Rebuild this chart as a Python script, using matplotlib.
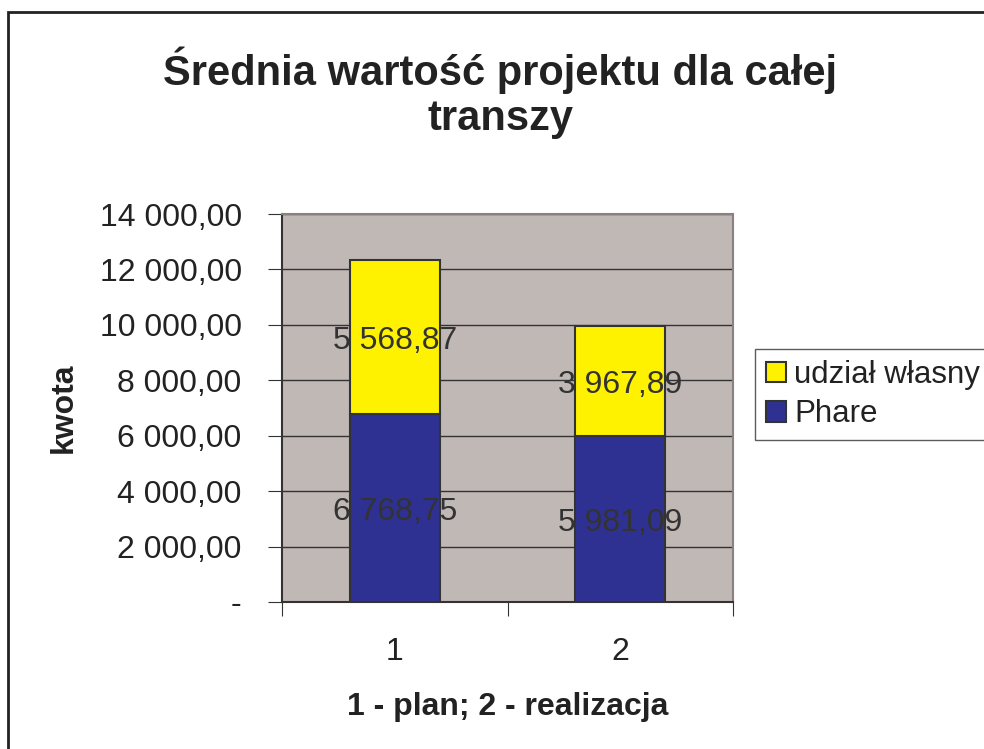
import matplotlib.pyplot as plt
from matplotlib.patches import Patch, Rectangle

plt.rcParams['font.family'] = ['Liberation Sans', 'DejaVu Sans']

# data
categories = ['1', '2']
phare = [6768.75, 5981.09]
udzial = [5568.87, 3967.89]
phare_labels = ['6 768,75', '5 981,09']
udzial_labels = ['5 568,87', '3 967,89']
yticks = [0, 2000, 4000, 6000, 8000, 10000, 12000, 14000]
ytick_labels = ['-', '2 000,00', '4 000,00', '6 000,00', '8 000,00',
                '10 000,00', '12 000,00', '14 000,00']

yellow = '#FFF200'
blue = '#2E3192'
txt = '#222222'

fig = plt.figure(figsize=(9.84, 7.49), dpi=100)
ax = fig.add_axes([282 / 984, 1 - 602 / 749, 451 / 984, 388 / 749])
ax.set_facecolor('#C0B8B5')

x = [1, 2]
ax.bar(x, phare, width=0.4, color=blue, edgecolor='#333333', linewidth=1.5, zorder=3)
ax.bar(x, udzial, width=0.4, bottom=phare, color=yellow, edgecolor='#333333',
       linewidth=1.5, zorder=3)

# data labels in segment centres
for xi, p, u, pl, ul in zip(x, phare, udzial, phare_labels, udzial_labels):
    ax.text(xi, p / 2, pl, ha='center', va='center_baseline', fontsize=23,
            color='#333333', zorder=4)
    ax.text(xi, p + u / 2, ul, ha='center', va='center_baseline', fontsize=23,
            color='#333333', zorder=4)

ax.set_ylim(0, 14000)
ax.set_xlim(0.5, 2.5)
ax.set_yticks(yticks)
ax.set_yticklabels(ytick_labels, fontsize=23, color=txt)
ax.yaxis.grid(True, color='#333333', linewidth=1, zorder=1)
ax.set_axisbelow(True)

# category ticks sit between the categories, labels at the centre
ax.set_xticks([0.5, 1.5, 2.5])
ax.set_xticklabels([])
ax.set_xticks(x, minor=True)
ax.set_xticklabels(categories, minor=True, fontsize=23, color=txt)
ax.tick_params(axis='x', which='minor', length=0, pad=25)
ax.tick_params(axis='x', which='major', length=10, color='#333333', direction='out')
ax.tick_params(axis='y', length=10, color='#333333', pad=19)

for s in ['top', 'right']:
    ax.spines[s].set_color('#8C8080')
    ax.spines[s].set_linewidth(1.5)
for s in ['left', 'bottom']:
    ax.spines[s].set_color('#333333')
    ax.spines[s].set_linewidth(1.5)

ax.set_ylabel('kwota', fontsize=23, fontweight='bold', color=txt, labelpad=15)
ax.set_xlabel('1 - plan; 2 - realizacja', fontsize=23, fontweight='bold', color=txt,
              labelpad=18)

fig.text(500 / 984, 1 - 93 / 749, 'Średnia wartość projektu dla całej\ntranszy',
         ha='center', va='center', fontsize=30, fontweight='bold', color=txt,
         linespacing=1.15)

handles = [Patch(facecolor=yellow, edgecolor='#333333', linewidth=1.5),
           Patch(facecolor=blue, edgecolor='#333333', linewidth=1.5)]
leg = fig.legend(handles, ['udział własny', 'Phare'], loc='upper left',
                 bbox_to_anchor=(755 / 984, 1 - 349 / 749), fontsize=22.5,
                 frameon=True, fancybox=False, edgecolor='#333333',
                 handlelength=0.65, handleheight=0.65, handletextpad=0.25,
                 borderpad=0.35, labelspacing=0.3, borderaxespad=0)
leg.get_frame().set_linewidth(1)
for t in leg.get_texts():
    t.set_color(txt)

# outer chart border (cut off right and bottom in the original)
fig.patches.append(Rectangle((8 / 984, -0.1), 1.2, 1.1 - 12 / 749,
                             transform=fig.transFigure, fill=False,
                             edgecolor='#222222', linewidth=2))

fig.savefig('out.png', dpi=100)
